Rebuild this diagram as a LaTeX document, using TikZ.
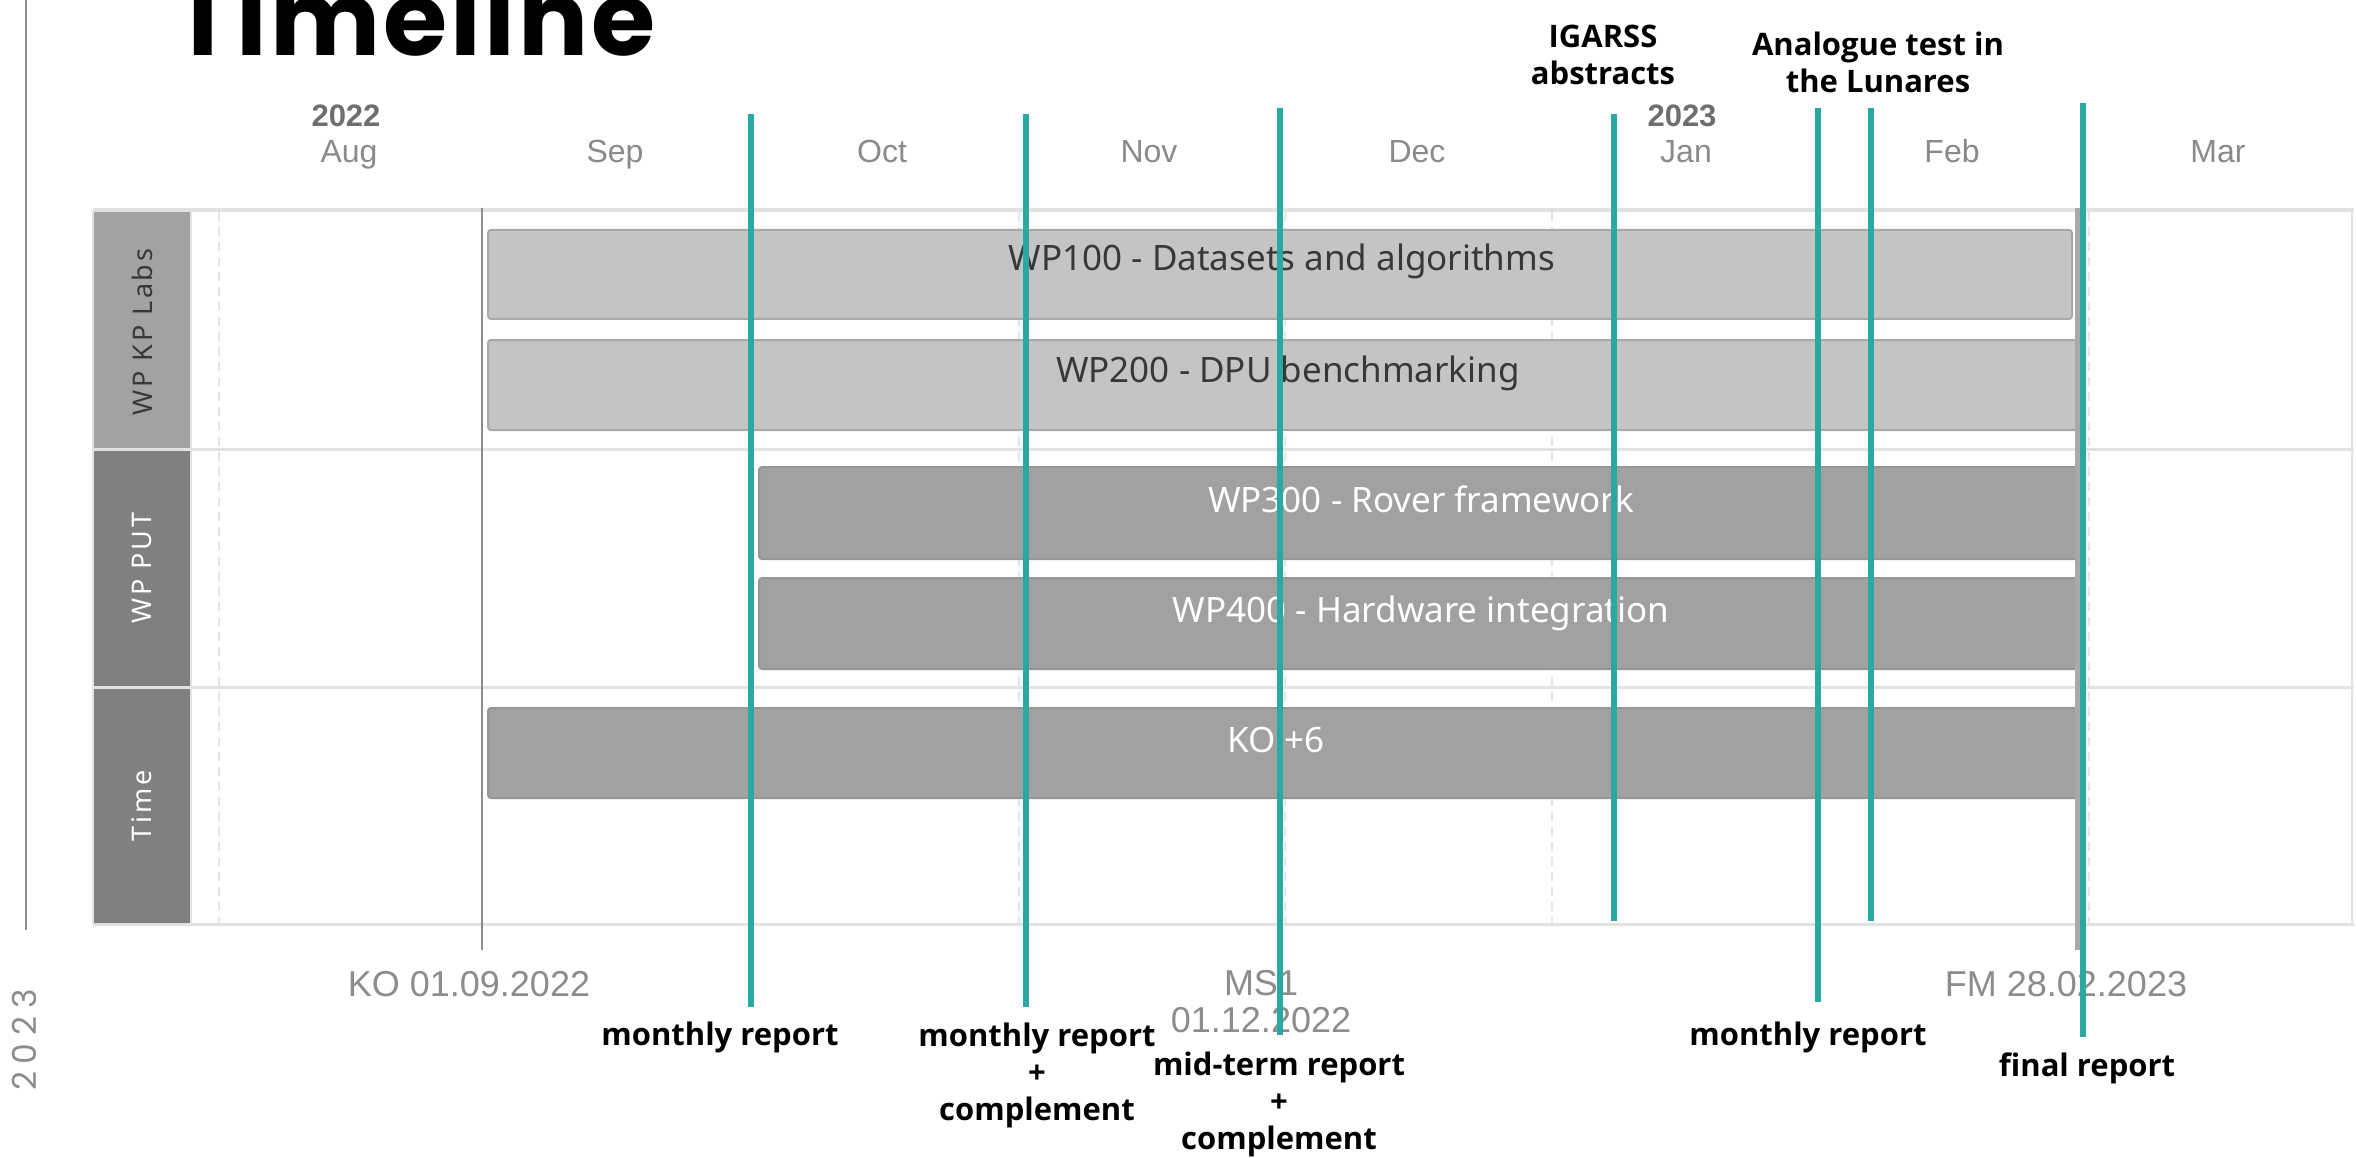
\documentclass[tikz,border=0pt]{standalone}
\usepackage{fontspec}
\newfontfamily\titlef{Poppins}[LetterSpace=3]
\newfontfamily\yearf{Poppins}[LetterSpace=24]
\newfontfamily\arialf{Liberation Sans}
\newfontfamily\segf{Noto Sans}
\newfontfamily\segsp{Noto Sans}[LetterSpace=10]
\newfontfamily\labf{Open Sans}
\definecolor{tealc}{HTML}{2BA8A1}
\definecolor{gridc}{HTML}{E2E2E2}
\definecolor{dashc}{HTML}{E4E4E4}
\definecolor{lbar}{HTML}{C4C4C4}
\definecolor{lbarb}{HTML}{A9A9A9}
\definecolor{dbar}{HTML}{A1A1A1}
\definecolor{dbarb}{HTML}{969696}
\definecolor{cellA}{HTML}{A2A2A2}
\definecolor{cellB}{HTML}{808080}
\definecolor{monthc}{HTML}{8A8A8A}
\definecolor{yearc}{HTML}{6E6E6E}
\definecolor{axisc}{HTML}{8C8C8C}
\definecolor{darktext}{HTML}{383838}
\begin{document}
\begin{tikzpicture}[x=1pt,y=-1pt,
  tealline/.style={draw=tealc,line width=6pt},
  gridline/.style={draw=gridc,line width=3pt},
  dashline/.style={draw=dashc,line width=2pt,dash pattern=on 9pt off 6pt},
  cellbox/.style={draw=gridc,line width=2pt},
  barlight/.style={fill=lbar,draw=lbarb,line width=2pt,rounded corners=3pt},
  bardark/.style={fill=dbar,draw=dbarb,line width=2pt,rounded corners=3pt},
  bartext/.style={inner sep=0pt,anchor=base,font=\segf\fontsize{35}{40}\selectfont},
  celltext/.style={inner sep=0pt,rotate=90,font=\segsp\fontsize{27}{32}\selectfont},
  monthlab/.style={inner sep=0pt,anchor=base,text=monthc,font=\arialf\fontsize{32}{36}\selectfont},
  yearlab/.style={inner sep=0pt,anchor=base,text=yearc,font=\arialf\bfseries\fontsize{31}{36}\selectfont},
  axislab/.style={inner sep=0pt,text=axisc,align=center,font=\arialf\fontsize{36}{37}\selectfont},
  evlab/.style={inner sep=0pt,align=center,font=\labf\bfseries\fontsize{31}{37}\selectfont}
]
\useasboundingbox (0,0) rectangle (2356,1158);
\fill[white] (0,0) rectangle (2356,1158);

% left decoration
\coordinate (la) at (26,0);
\coordinate (lb) at (26,930);
\draw[draw=axisc,line width=2.5pt] (la) -- (lb);
\node[inner sep=0pt,rotate=90,text=axisc,font=\yearf\fontsize{33}{36}\selectfont] (yr) at (24,1040) {2023};

% title
\node[inner sep=0pt,anchor=base,font=\titlef\bfseries\fontsize{104}{110}\selectfont] (title) at (414,56) {Timeline};

% label cells
\fill[cellA] (93,210) rectangle (191,449);
\fill[cellB] (93,449) rectangle (191,687);
\fill[cellB] (93,687) rectangle (191,924);
\node[celltext,text=darktext] (c1) at (142,332) {WP KP Labs};
\node[celltext,text=white] (c2) at (142,568) {WP PUT};
\node[celltext,text=white] (c3) at (142,806) {Time};

% grid
\draw[dashline] (219,212) -- (219,924);
\draw[dashline] (750,212) -- (750,924);
\draw[dashline] (1019,212) -- (1019,924);
\draw[dashline] (1285,212) -- (1285,924);
\draw[dashline] (1552,212) -- (1552,924);
\draw[dashline] (1820,212) -- (1820,924);
\draw[dashline] (2089,212) -- (2089,924);
\draw[draw=gridc,line width=4pt] (93,210) -- (2354,210);
\draw[gridline] (93,449) -- (2354,449);
\draw[gridline] (93,687) -- (2354,687);
\draw[gridline] (93,924) -- (2354,924);
\draw[cellbox] (93,210) -- (93,924);
\draw[cellbox] (191,210) -- (191,924);
\draw[cellbox] (2352,210) -- (2352,924);
\draw[cellbox] (93,449) -- (191,449);
\draw[cellbox] (93,687) -- (191,687);

% month labels
\node[yearlab] (y22) at (346,127) {2022};
\node[yearlab] (y23) at (1682,127) {2023};
\node[monthlab] (m1) at (349,163) {Aug};
\node[monthlab] (m2) at (615,163) {Sep};
\node[monthlab] (m3) at (882,163) {Oct};
\node[monthlab] (m4) at (1149,163) {Nov};
\node[monthlab] (m5) at (1417,163) {Dec};
\node[monthlab] (m6) at (1686,163) {Jan};
\node[monthlab] (m7) at (1952,163) {Feb};
\node[monthlab] (m8) at (2218,163) {Mar};

% bars
\draw[barlight] (488,230) rectangle (2072,319);
\draw[barlight] (488,340) rectangle (2078,430);
\draw[bardark] (759,467) rectangle (2078,559);
\draw[bardark] (759,578) rectangle (2078,669);
\draw[bardark] (488,708) rectangle (2078,798);
\node[bartext,text=darktext] (b1) at (1282,271) {WP100 - Datasets and algorithms};
\node[bartext,text=darktext] (b2) at (1288,382) {WP200 - DPU benchmarking};
\node[bartext,text=white] (b3) at (1421,512) {WP300 - Rover framework};
\node[bartext,text=white] (b4) at (1421,622) {WP400 - Hardware integration};
\node[bartext,text=white] (b5) at (1276,752) {KO +6};

% milestone lines
\coordinate (koa) at (482,208);
\coordinate (kob) at (482,950);
\draw[draw=axisc,line width=2.5pt] (koa) -- (kob);
\coordinate (fma) at (2077,208);
\coordinate (fmb) at (2077,950);
\draw[draw=lbarb,line width=5pt] (fma) -- (fmb);
\node[axislab] (ko) at (469,984) {KO 01.09.2022};
\node[axislab] (ms) at (1261,1002) {MS1\\01.12.2022};
\node[axislab] (fm) at (2066,984) {FM 28.02.2023};

% teal event lines
\coordinate (t1a) at (751,114);  \coordinate (t1b) at (751,1007);
\coordinate (t2a) at (1026,114); \coordinate (t2b) at (1026,1007);
\coordinate (t3a) at (1280,108); \coordinate (t3b) at (1280,1035);
\coordinate (t4a) at (1614,114); \coordinate (t4b) at (1614,921);
\coordinate (t5a) at (1818,108); \coordinate (t5b) at (1818,1002);
\coordinate (t6a) at (1871,108); \coordinate (t6b) at (1871,921);
\coordinate (t7a) at (2083,103); \coordinate (t7b) at (2083,1037);
\draw[tealline] (t1a) -- (t1b);
\draw[tealline] (t2a) -- (t2b);
\draw[tealline] (t3a) -- (t3b);
\draw[tealline] (t4a) -- (t4b);
\draw[tealline] (t5a) -- (t5b);
\draw[tealline] (t6a) -- (t6b);
\draw[tealline] (t7a) -- (t7b);

% event labels
\node[evlab] (e1) at (720,1037) {monthly report};
\node[evlab] (e2) at (1037,1075) {monthly report\\+\\complement};
\node[evlab] (e3) at (1279,1104) {mid-term report\\+\\complement};
\node[evlab] (e4) at (1603,55) {IGARSS\\abstracts};
\node[evlab] (e5) at (1808,1037) {monthly report};
\node[evlab] (e6) at (1878,62) {Analogue test in\\the Lunares};
\node[evlab] (e7) at (2087,1068) {final report};
\end{tikzpicture}
\end{document}
